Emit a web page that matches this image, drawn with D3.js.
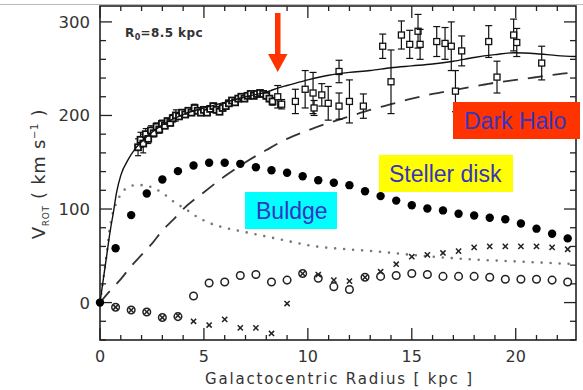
<!DOCTYPE html>
<html><head><meta charset="utf-8">
<script src="https://cdn.jsdelivr.net/npm/d3@7"></script>
<style>body{margin:0;background:#fff}svg{display:block}</style>
</head><body><svg id="c" width="583" height="390"></svg>
<script>
// ---- data ----
const xTicks = [0, 5, 10, 15, 20];
const yTicks = [0, 100, 200, 300];
const xLabel = "Galactocentric Radius [ kpc ]";
const r0Label = "=8.5 kpc";

// observed rotation curve, inner dense part
const innerR = [1.83,1.95,2.08,2.2,2.32,2.45,2.58,2.72,2.85,2.98,3.12,3.25,3.38,3.5,3.65,3.8,3.95,4.1,4.25,4.4,4.55,4.7,4.85,5.0,5.15,5.3,5.45,5.6,5.75,5.9,6.05,6.2,6.35,6.5,6.65,6.8,6.95,7.1,7.25,7.4,7.55,7.7,7.85,8.0,8.15,8.3];
const innerV = [166,174,170,180,175,184,181,188,185,191,189,194,192,197,200,199,203,201,205,203,208,205,203,206,203,207,210,206,204,208,210,213,216,214,218,220,218,221,223,221,223,224,223,221,218,215];
const innerErr = [9,8,10,6,5,5,4,4,4,4,3,3,3,4,6,3,3,3,3,3,4,3,3,3,3,3,3,3,3,3,3,3,3,3,3,3,3,3,3,3,3,3,3,3,3,4];

// observed rotation curve, outer part
const outerR = [8.55,8.74,9.4,9.87,10.25,10.3,10.67,10.98,11.5,11.5,12.0,12.67,13.6,14.0,14.5,14.9,15.3,15.4,16.2,16.6,16.9,17.1,17.4,18.7,19.1,19.9,20.05,21.25];
const outerV = [220,212,215,228,224,208,222,213,247,210,215,210,274,236,286,276,290,276,279,277,274,226,269,279,241,286,278,256];
const outerErr = [12,5,13,20,22,8,12,18,12,14,23,13,13,34,15,15,18,16,16,17,26,22,16,17,17,17,15,18];

// total model (solid)
const totalR = [0,0.16,0.32,0.48,0.64,0.8,1.0,1.36,1.68,2.0,2.5,3,3.5,4,5,6,7,8,8.66,9,10,11,12,13,14,15,16,17,18,19,19.9,21,22,22.9];
const totalV = [0,25,50,75,96,118,136,153,164,172,182,190,196,201,208,214,220,225,230,232,238,243,246,248,251,253,255,258,262,265,267,266,264,263];

// dark halo (dashed)
const haloR = [0,0.5,1,1.5,2,2.5,3,3.5,4,5,6,7,8,9,10,11,12,13,14,15,16,17,18,19,20,21,22,22.9];
const haloV = [0,13,25,39,51,63,77,88,100,118,135,150,163,175,184,192,199,206,212,218,223,227,231,235,238,241,244,246];

// bulge (dotted)
const bulgeR = [0,0.16,0.32,0.45,0.63,0.8,1.2,1.7,2.17,2.5,2.97,3.6,4.25,4.5,5.45,6.2,7.06,8.66,10.27,11.87,13.3,15,18,20,22.9];
const bulgeV = [0,25,52,76,97,107,121,125.5,125.5,123,117.7,107,98,94,83.5,79,75,67.6,60.4,57,54.7,51,46,44,41];

// stellar disk (filled circles)
const diskR = [0,0.75,1.5,2.25,3,3.75,4.5,5.25,6,6.75,7.5,8.25,9,9.75,10.5,11.25,12,12.75,13.5,14.25,15,15.75,16.5,17.25,18,18.75,19.5,20.25,21,21.75,22.5];
const diskV = [0,58,93.5,116.6,131.5,140.5,146.5,149.4,149.4,148.3,144.7,141.5,138.7,135,130.8,128,125.5,119,113.8,109,104,100.6,98.5,95,93,90.7,89,84.6,79,73.6,68.6];

// open circles
const ringR = [0.75,1.5,2.25,3,3.75,4.5,5.25,6,6.75,7.5,8.25,9,9.75,10.5,11.25,12,12.75,13.5,14.25,15,15.75,16.5,17.25,18,18.75,19.5,20.25,21,21.75,22.5];
const ringV = [-5,-8,-10,-16,-15,7,21,22,29,30,22,24,31,26,17,14,27,28,29,31,30,28,28,28,27,25,25,25,24,22];
// crosses
const crossR = [0.75,1.5,2.25,3,3.75,4.5,5.25,6,6.75,7.5,8.25,9,9.75,10.5,11.25,12,12.75,13.5,14.25,15,15.75,16.5,17.25,18,18.75,19.5,20.25,21,21.75,22.5];
const crossV = [-5,-8,-10,-16,-14,-20,-24,-18,-27,-27,-33,-1,31,30,24,23,27,33,41,49,51,53,55,59,60,60,60,60,59,57];

// labels
const labels = [
  {text: "Dark Halo", fill: "#ff3300"},
  {text: "Steller disk", fill: "#ffff00"},
  {text: "Buldge", fill: "#00ffff"}
];

// ---- drawing ----
const svg = d3.select("#c");
const L = 100, R = 576, T = 6, B = 340;
const x = d3.scaleLinear().domain([0, 22.9]).range([L, R]);
const y = d3.scaleLinear().domain([-40, 317]).range([B, T]);
const ink = "#222";
const tickFont = "DejaVu Sans, sans-serif";

// top gray border line of the picture
svg.append("line").attr("x1",0).attr("x2",583).attr("y1",4.5).attr("y2",4.5)
  .attr("stroke","#bbb").attr("stroke-width",1);

// frame
svg.append("rect").attr("x",L).attr("y",T).attr("width",R-L).attr("height",B-T)
  .attr("fill","none").attr("stroke",ink).attr("stroke-width",1.6);

const xMinor = d3.range(0, 23, 1);
const yMinor = d3.range(-40, 317, 20);
const g = svg.append("g").attr("stroke", ink).attr("stroke-width", 1.3);
xMinor.forEach(v => {
  const len = xTicks.includes(v) ? 12 : 5;
  g.append("line").attr("x1",x(v)).attr("x2",x(v)).attr("y1",B).attr("y2",B-len);
  g.append("line").attr("x1",x(v)).attr("x2",x(v)).attr("y1",T).attr("y2",T+len);
});
yMinor.forEach(v => {
  const len = yTicks.includes(v) ? 12 : 6;
  g.append("line").attr("x1",L).attr("x2",L+len).attr("y1",y(v)).attr("y2",y(v));
  g.append("line").attr("x1",R).attr("x2",R-len).attr("y1",y(v)).attr("y2",y(v));
});

// tick labels
svg.append("g").selectAll("text").data(xTicks).join("text")
  .attr("x", d => x(d)).attr("y", 362).attr("text-anchor","middle")
  .attr("font-family", tickFont).attr("font-size", 16).attr("fill", "#333")
  .text(d => d);
svg.append("g").selectAll("text").data(yTicks).join("text")
  .attr("x", 90).attr("y", d => y(d) + 6).attr("text-anchor","end")
  .attr("font-family", tickFont).attr("font-size", 16.5).attr("fill", "#333")
  .text(d => d);

// axis titles
svg.append("text").attr("x", 205).attr("y", 384)
  .attr("font-family", tickFont).attr("font-size", 15).attr("fill", "#333")
  .attr("textLength", 267).attr("lengthAdjust","spacing")
  .text(xLabel);
const yt = svg.append("text").attr("transform","translate(45,174) rotate(-90)")
  .attr("text-anchor","middle").attr("font-family", tickFont).attr("font-size", 18)
  .attr("fill","#333").attr("letter-spacing", 0.7);
yt.append("tspan").text("V");
yt.append("tspan").attr("font-size", 9).attr("dy", 4).text("ROT");
yt.append("tspan").attr("dy", -4).text(" ( km s");
yt.append("tspan").attr("font-size", 10).attr("dy", -7).text("−1");
yt.append("tspan").attr("dy", 7).text(" )");

// R0 label
const rl = svg.append("text").attr("x", 125).attr("y", 37)
  .attr("font-family", tickFont).attr("font-size", 12).attr("font-weight","bold")
  .attr("fill","#333").attr("letter-spacing", 0.4);
rl.append("tspan").text("R");
rl.append("tspan").attr("font-size", 8).attr("dy", 3).text("0");
rl.append("tspan").attr("dy", -3).text(r0Label);

// model curves
const line = (rs, vs, curve) => d3.line().x((d,i) => x(rs[i])).y((d,i) => y(vs[i])).curve(curve)(rs);
svg.append("path").attr("d", line(haloR, haloV, d3.curveMonotoneX))
  .attr("fill","none").attr("stroke","#333").attr("stroke-width",1.8).attr("stroke-dasharray","15 10");
svg.append("path").attr("d", line(bulgeR, bulgeV, d3.curveMonotoneX))
  .attr("fill","none").attr("stroke","#777").attr("stroke-width",2.6)
  .attr("stroke-linecap","round").attr("stroke-dasharray","0 9");

// observed inner
const obs = svg.append("g").attr("stroke","#111").attr("fill","none");
innerR.forEach((r,i) => {
  obs.append("line").attr("x1",x(r)).attr("x2",x(r)).attr("y1",y(innerV[i]-innerErr[i])).attr("y2",y(innerV[i]+innerErr[i])).attr("stroke-width",1.2);
  obs.append("line").attr("x1",x(r)-3).attr("x2",x(r)+3).attr("y1",y(innerV[i]-innerErr[i])).attr("y2",y(innerV[i]-innerErr[i])).attr("stroke-width",1.2);
  obs.append("line").attr("x1",x(r)-3).attr("x2",x(r)+3).attr("y1",y(innerV[i]+innerErr[i])).attr("y2",y(innerV[i]+innerErr[i])).attr("stroke-width",1.2);
});
innerR.forEach((r,i) => {
  obs.append("rect").attr("x",x(r)-3).attr("y",y(innerV[i])-3).attr("width",6).attr("height",6)
    .attr("fill","#fff").attr("stroke-width",1.8);
});
// observed outer
outerR.forEach((r,i) => {
  const lo = y(outerV[i]-outerErr[i]), hi = y(outerV[i]+outerErr[i]);
  obs.append("line").attr("x1",x(r)).attr("x2",x(r)).attr("y1",lo).attr("y2",hi).attr("stroke-width",1.2);
  obs.append("line").attr("x1",x(r)-3.5).attr("x2",x(r)+3.5).attr("y1",lo).attr("y2",lo).attr("stroke-width",1.2);
  obs.append("line").attr("x1",x(r)-3.5).attr("x2",x(r)+3.5).attr("y1",hi).attr("y2",hi).attr("stroke-width",1.2);
  obs.append("rect").attr("x",x(r)-3).attr("y",y(outerV[i])-3).attr("width",6).attr("height",6)
    .attr("fill","#fff").attr("stroke-width",1.3);
});

// total solid
svg.append("path").attr("d", line(totalR, totalV, d3.curveMonotoneX))
  .attr("fill","none").attr("stroke","#111").attr("stroke-width",1.4);

// disk filled circles
svg.append("g").selectAll("circle").data(diskR).join("circle")
  .attr("cx", d => x(d)).attr("cy", (d,i) => y(diskV[i])).attr("r", 4.2).attr("fill","#000");
// open circles
svg.append("g").selectAll("circle").data(ringR).join("circle")
  .attr("cx", d => x(d)).attr("cy", (d,i) => y(ringV[i])).attr("r", 3.8)
  .attr("fill","none").attr("stroke","#222").attr("stroke-width",1.5);
// crosses
const cg = svg.append("g").attr("stroke","#222").attr("stroke-width",1.5);
crossR.forEach((r,i) => {
  const cx = x(r), cy = y(crossV[i]), s = 2.6;
  cg.append("line").attr("x1",cx-s).attr("x2",cx+s).attr("y1",cy-s).attr("y2",cy+s);
  cg.append("line").attr("x1",cx-s).attr("x2",cx+s).attr("y1",cy+s).attr("y2",cy-s);
});

// red arrow
svg.append("rect").attr("x",275).attr("y",13).attr("width",5.5).attr("height",43).attr("fill","#ff3300");
svg.append("path").attr("d","M268,54 L287.5,54 L277.7,72 Z").attr("fill","#ff3300");

// label boxes
const boxes = [
  {bx:453, by:102, bw:127, bh:37, tx:464, ty:129},
  {bx:379, by:155, bw:134, bh:37, tx:389, ty:182},
  {bx:245, by:192, bw:92, bh:37, tx:256, ty:219}
];
labels.forEach((l,i) => {
  const b = boxes[i];
  svg.append("rect").attr("x",b.bx).attr("y",b.by).attr("width",b.bw).attr("height",b.bh).attr("fill",l.fill);
  svg.append("text").attr("x",b.tx).attr("y",b.ty).attr("font-family","Liberation Sans, Arial, sans-serif")
    .attr("font-size",23).attr("fill","#3535c0").text(l.text);
});
</script></body></html>
